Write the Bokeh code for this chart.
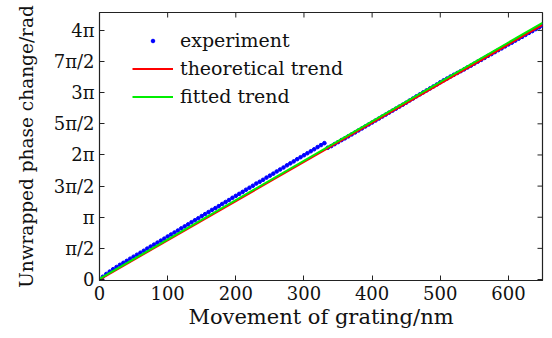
import math
from bokeh.plotting import figure
from bokeh.models import Range1d, FixedTicker, Legend, LegendItem
from bokeh.embed import file_html
from bokeh.resources import INLINE

# experiment data (nm, rad)
exp_x = list(range(0, 651, 5))
exp_y = [
    0.00, 0.14, 0.28, 0.40, 0.52, 0.63, 0.74, 0.84, 0.94, 1.05,
    1.15, 1.25, 1.35, 1.45, 1.56, 1.66, 1.76, 1.86, 1.96, 2.06,
    2.17, 2.27, 2.37, 2.47, 2.58, 2.68, 2.78, 2.89, 2.99, 3.09,
    3.20, 3.30, 3.40, 3.51, 3.60, 3.70, 3.81, 3.91, 4.01, 4.12,
    4.22, 4.32, 4.42, 4.53, 4.63, 4.73, 4.84, 4.93, 5.03, 5.14,
    5.24, 5.34, 5.45, 5.55, 5.65, 5.76, 5.86, 5.96, 6.07, 6.17,
    6.27, 6.37, 6.47, 6.57, 6.68, 6.78, 6.88, 6.65, 6.73, 6.83,
    6.93, 7.03, 7.12, 7.22, 7.32, 7.42, 7.52, 7.62, 7.72, 7.82,
    7.92, 8.02, 8.12, 8.22, 8.32, 8.42, 8.52, 8.62, 8.72, 8.82,
    8.92, 9.03, 9.13, 9.24, 9.34, 9.44, 9.54, 9.64, 9.74, 9.84,
    9.95, 10.05, 10.14, 10.24, 10.33, 10.42, 10.51, 10.60, 10.70, 10.79,
    10.89, 10.99, 11.08, 11.18, 11.28, 11.37, 11.47, 11.57, 11.66, 11.76,
    11.86, 11.95, 12.05, 12.15, 12.24, 12.34, 12.44, 12.53, 12.63, 12.72,
    12.80,
]
theory_x = [0, 650]
theory_y = [0.0, 12.85]
fit_x = [0, 650]
fit_y = [0.03, 12.95]

x_ticks = [0, 100, 200, 300, 400, 500, 600]
y_tick_labels = ["0", "π/2", "π", "3π/2", "2π", "5π/2", "3π", "7π/2", "4π"]
y_ticks = [k * math.pi / 2 for k in range(len(y_tick_labels))]

X_MIN, X_MAX = 0, 650
Y_MIN, Y_MAX = -0.05, 13.47

FONT = "DejaVu Serif"
INK = "#222222"

p = figure(width=552, height=338, output_backend="svg", toolbar_location=None,
           x_range=Range1d(X_MIN, X_MAX), y_range=Range1d(Y_MIN, Y_MAX),
           min_border_left=99, min_border_right=10, min_border_top=12,
           min_border_bottom=58)
p.grid.visible = False
p.outline_line_color = INK
p.outline_line_width = 1.2

r_exp = p.scatter(exp_x, exp_y, size=3.6, color="#0000ff")
r_th = p.line(theory_x, theory_y, line_color="#ff0000", line_width=2)
r_fit = p.line(fit_x, fit_y, line_color="#00ee00", line_width=2)

# mirrored inward ticks on the top and right frame edges
p.ray(x=x_ticks, y=[Y_MAX] * len(x_ticks), length=5, angle=-math.pi / 2,
      length_units="screen", line_color=INK, line_width=1)
p.ray(x=[X_MAX] * len(y_ticks), y=y_ticks, length=5, angle=math.pi,
      length_units="screen", line_color=INK, line_width=1)

for ax in (p.xaxis[0], p.yaxis[0]):
    ax.major_tick_in = 5
    ax.major_tick_out = 0
    ax.minor_tick_in = 0
    ax.minor_tick_out = 0
    ax.axis_line_color = INK
    ax.major_tick_line_color = INK
    ax.major_label_text_font = FONT
    ax.major_label_text_font_size = "18px"
    ax.major_label_text_color = "#111111"
    ax.axis_label_text_font = FONT
    ax.axis_label_text_font_style = "normal"
    ax.axis_label_text_color = "#111111"

p.xaxis[0].ticker = FixedTicker(ticks=x_ticks)
p.xaxis[0].axis_label = "Movement of grating/nm"
p.xaxis[0].axis_label_text_font_size = "21px"
p.xaxis[0].major_label_standoff = 5
p.xaxis[0].axis_label_standoff = 2

p.yaxis[0].ticker = FixedTicker(ticks=y_ticks)
p.yaxis[0].major_label_overrides = {t: s for t, s in zip(y_ticks, y_tick_labels)}
p.yaxis[0].axis_label = "Unwrapped phase change/rad"
p.yaxis[0].axis_label_text_font_size = "18.5px"
p.yaxis[0].major_label_standoff = 5
p.yaxis[0].axis_label_standoff = 14

legend = Legend(items=[
    LegendItem(label="experiment", renderers=[r_exp]),
    LegendItem(label="theoretical trend", renderers=[r_th]),
    LegendItem(label="fitted trend", renderers=[r_fit]),
], location=(33, 173))
legend.border_line_color = None
legend.background_fill_alpha = 0
legend.padding = 0
legend.margin = 0
legend.spacing = 6
legend.glyph_width = 41
legend.glyph_height = 9
legend.label_height = 20
legend.label_standoff = 7
legend.label_text_font = FONT
legend.label_text_font_size = "19px"
legend.label_text_color = "#111111"
p.add_layout(legend, "center")

open("out.html", "w").write(file_html(p, INLINE))
